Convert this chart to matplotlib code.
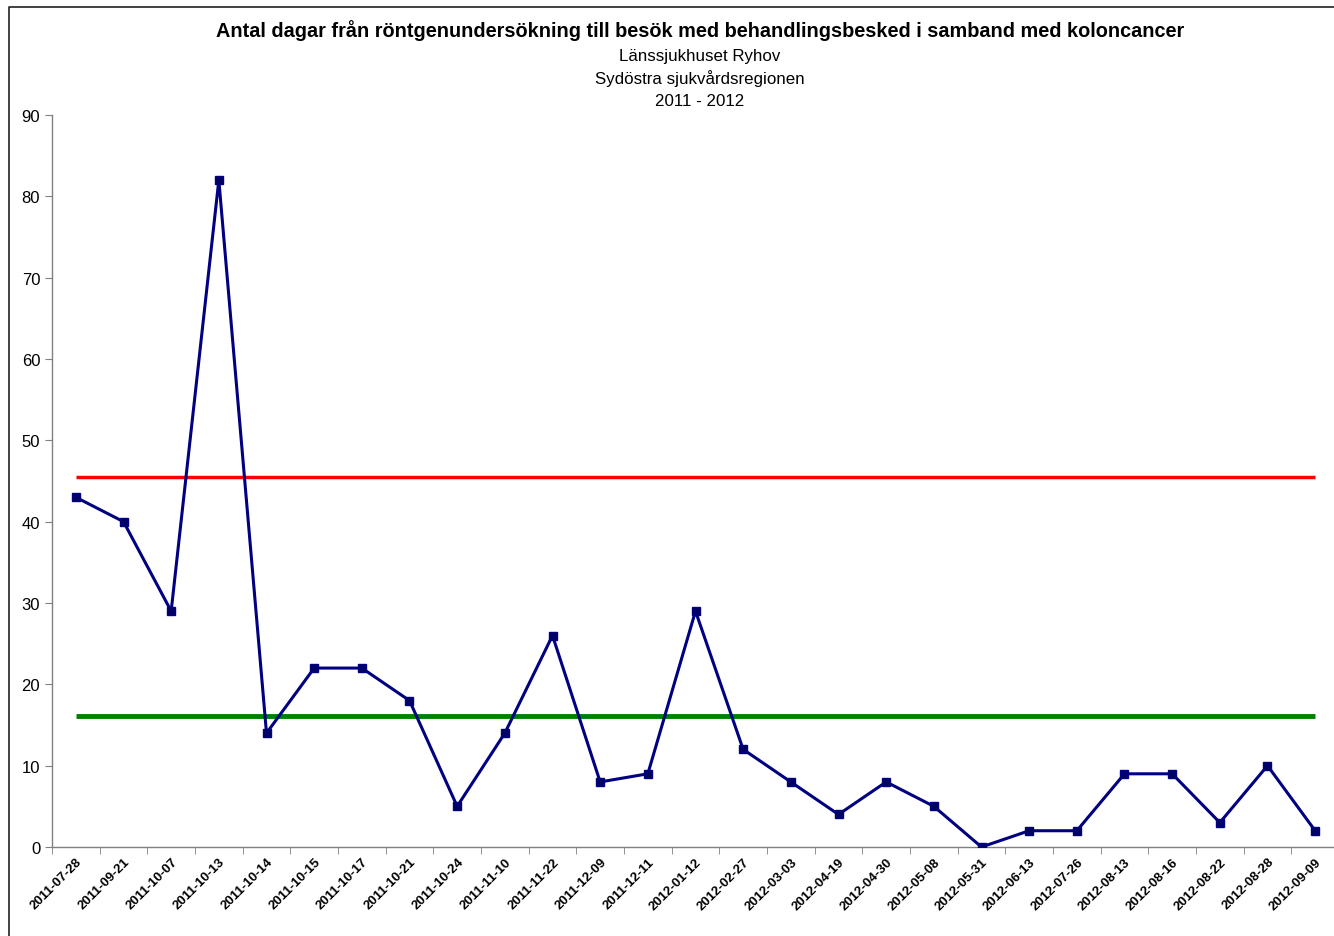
import matplotlib
matplotlib.use('Agg')
import matplotlib.pyplot as plt
from matplotlib.lines import Line2D

dates = ['2011-07-28', '2011-09-21', '2011-10-07', '2011-10-13', '2011-10-14', '2011-10-15',
         '2011-10-17', '2011-10-21', '2011-10-24', '2011-11-10', '2011-11-22', '2011-12-09',
         '2011-12-11', '2012-01-12', '2012-02-27', '2012-03-03', '2012-04-19', '2012-04-30',
         '2012-05-08', '2012-05-31', '2012-06-13', '2012-07-26', '2012-08-13', '2012-08-16',
         '2012-08-22', '2012-08-28', '2012-09-09']
days = [43, 40, 29, 82, 14, 22, 22, 18, 5, 14, 26, 8, 9, 29, 12, 8, 4, 8, 5, 0, 2, 2, 9, 9, 3, 10, 2]
upper_limit = 45.5
mean_level = 16.1

plt.rcParams['font.family'] = ['Liberation Sans', 'DejaVu Sans']

W, H = 1334, 937
fig = plt.figure(figsize=(W / 100, H / 100), dpi=100)
# axes: left 52px, right ~1339px, bottom 848px, top 116px
ax = fig.add_axes([52 / W, 1 - 848 / H, (1339 - 52) / W, (848 - 116) / H])

x = list(range(len(dates)))
ax.plot(x, [upper_limit] * len(x), color='#ff0000', lw=2.5, solid_capstyle='butt', zorder=2)
ax.plot(x, [mean_level] * len(x), color='#008000', lw=3.5, solid_capstyle='butt', zorder=2)
ax.plot(x, days, color='#000080', lw=2.2, marker='s', markersize=6,
        markerfacecolor='#000066', markeredgecolor='#000080', zorder=3)

ax.set_xlim(-0.5, len(dates) - 0.5)
ax.set_ylim(0, 90)
ax.set_yticks(range(0, 91, 10))
ax.set_xticks(x)
ax.set_xticks([i - 0.5 for i in range(len(dates) + 1)], minor=True)
ax.set_xticklabels(dates, rotation=45, ha='right', rotation_mode='anchor',
                   fontsize=9.5, fontweight='bold')
ax.tick_params(axis='x', which='major', length=0, pad=6)
ax.tick_params(axis='x', which='minor', length=5, color='#808080', direction='out')
ax.tick_params(axis='y', length=5, color='#808080', labelsize=12)

for s in ['top', 'right']:
    ax.spines[s].set_visible(False)
for s in ['left', 'bottom']:
    ax.spines[s].set_color('#808080')
    ax.spines[s].set_linewidth(1)
ax.spines['bottom'].set_clip_on(False)

cx = 700 / W
fig.text(cx, 1 - 31 / H, 'Antal dagar från röntgenundersökning till besök med behandlingsbesked i samband med koloncancer',
         ha='center', va='center', fontsize=14.3, fontweight='bold')
fig.text(cx, 1 - 56 / H, 'Länssjukhuset Ryhov', ha='center', va='center', fontsize=12.2)
fig.text(cx, 1 - 79 / H, 'Sydöstra sjukvårdsregionen', ha='center', va='center', fontsize=12.2)
fig.text(cx, 1 - 102 / H, '2011 - 2012', ha='center', va='center', fontsize=12.2)

# outer frame of the chart area (left and top edges only)
fig.add_artist(Line2D([9 / W, 9 / W, 1.0], [0.0, 1 - 8 / H, 1 - 8 / H],
                      transform=fig.transFigure, color='#222222', lw=1.2))

fig.savefig('out.png', dpi=100)
